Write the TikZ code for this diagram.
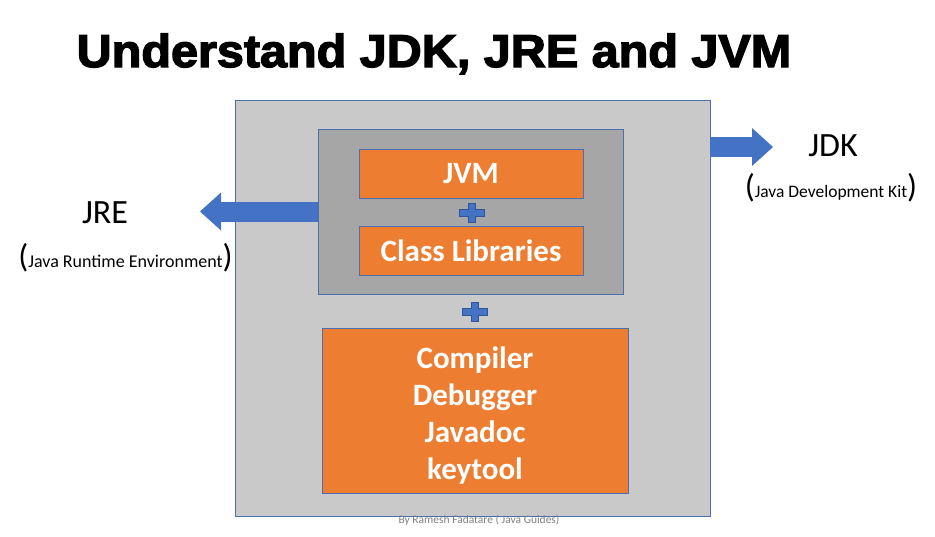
\documentclass[tikz,border=0pt]{standalone}
\usepackage{fontspec}
\setmainfont{Carlito}
\newfontfamily\titlefont{Liberation Sans Bold}[FakeBold=3,FakeStretch=1.055]
\usepackage{tikz}
\usetikzlibrary{positioning,arrows.meta}
\definecolor{boxorange}{HTML}{ED7D31}
\definecolor{boxblue}{HTML}{4472C4}
\definecolor{edgeblue}{HTML}{4A6EB0}
\definecolor{plusedge}{HTML}{2F5597}
\definecolor{lightgray}{HTML}{C9C9C9}
\definecolor{darkgray}{HTML}{A6A6A6}
\tikzset{%
  every box/.style={
    rectangle,
    draw=edgeblue,
    line width=0.6pt,
    inner sep=0pt
  },
  box outer/.style={fill=lightgray},
  box inner/.style={fill=darkgray},
  box part/.style={
    fill=boxorange,
    text=white,
    align=center,
    font=\fontsize{31}{37}\selectfont\bfseries
  },
  block arrow/.style={
    boxblue,
    line width=20pt,
    -{Triangle[width=38pt,length=21pt,line width=0pt]}
  },
  plus mark/.style={
    fill=boxblue,
    draw=plusedge,
    line width=0.5pt
  },
  big label/.style={
    font=\fontsize{34}{34}\selectfont,
    anchor=base
  },
}

\begin{document}
\begin{tikzpicture}[x=1pt, y=-1pt]

\useasboundingbox (0,0) rectangle (935,536);

\node [anchor=base] (title) at (434,67)
  {\titlefont\fontsize{46}{46}\selectfont Understand JDK, JRE and JVM};

\node [every box, box outer, minimum width=475pt, minimum height=416pt] (box-jdk) at (472.5,308) {};
\node [every box, box inner, minimum width=305pt, minimum height=165pt] (box-jre) at (470.5,211.5) {};

\node [every box, box part, minimum width=224pt, minimum height=49pt] (box-jvm) at (471,173.5) {JVM};
\node [every box, box part, minimum width=224pt, minimum height=49pt] (box-lib) at (471,250.5) {Class Libraries};
\node [every box, box part, minimum width=306pt, minimum height=165pt] (box-tools) at (475,410.5)
  {\\[-6pt]Compiler\\Debugger\\Javadoc\\keytool};

\foreach \px/\py in {472/212.5, 474.5/312}
  \filldraw [plus mark] (\px-3.5,\py-9.5) -- ++(7,0) -- ++(0,6) -- ++(9,0) -- ++(0,7)
    -- ++(-9,0) -- ++(0,6) -- ++(-7,0) -- ++(0,-6) -- ++(-9,0) -- ++(0,-7) -- ++(9,0) -- cycle;

\coordinate (jre-tip) at (200,211.5);
\coordinate (jdk-tip) at (773,147);
\draw [block arrow] (box-jre.west) -- (jre-tip);
\draw [block arrow] (box-jdk.east |- jdk-tip) -- (jdk-tip);

\node [big label] (jdk) at (833,156) {JDK};
\node [anchor=base] (jdk-full) at (831,197)
  {{\fontsize{33}{33}\selectfont(}{\fontsize{17.5}{17.5}\selectfont Java Development Kit}{\fontsize{33}{33}\selectfont)}};

\node [big label] (jre) at (105,223) {JRE};
\node [anchor=base] (jre-full) at (125.5,267)
  {{\fontsize{33}{33}\selectfont(}{\fontsize{18}{18}\selectfont Java Runtime Environment}{\fontsize{33}{33}\selectfont)}};

\node [text=gray, font=\fontsize{11.5}{11.5}\selectfont] (credit) at (479,520)
  {By Ramesh Fadatare ( Java Guides)};

\end{tikzpicture}
\end{document}
